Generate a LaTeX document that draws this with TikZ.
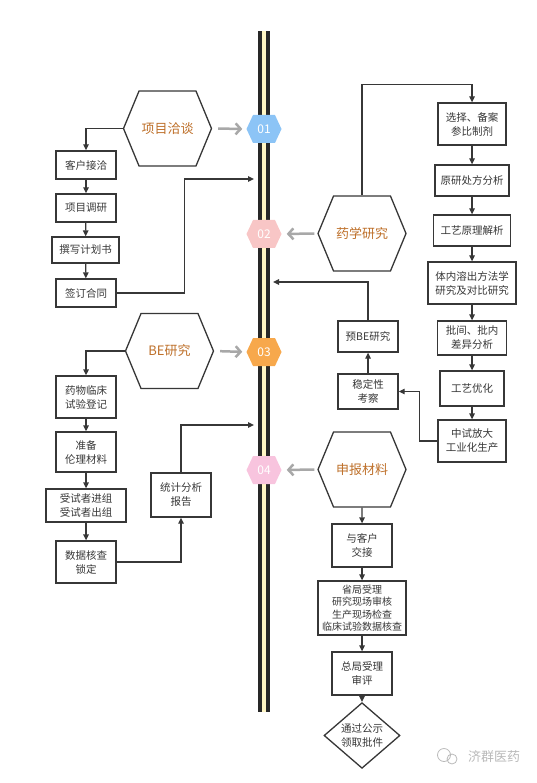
\documentclass[tikz,border=0pt]{standalone}
\usepackage{fontspec}
\setmainfont{Noto Sans CJK SC}
\usepackage{xcolor}
\usepackage{tikz}
\usetikzlibrary{arrows.meta,positioning,calc,shapes.geometric,shapes.symbols}
\definecolor{railblk}{RGB}{40,40,40}
\definecolor{railylw}{RGB}{255,246,196}
\definecolor{bdgblue}{RGB}{140,196,246}
\definecolor{bdgrose}{RGB}{248,198,198}
\definecolor{bdgorng}{RGB}{247,168,76}
\definecolor{bdgpink}{RGB}{248,196,222}
\definecolor{hxbrown}{RGB}{190,112,42}
\definecolor{lngray}{RGB}{168,168,168}
\definecolor{inkgray}{RGB}{55,55,55}
\definecolor{wmgray}{RGB}{185,185,185}

\begin{document}
\begin{tikzpicture}[
  x=1pt, y=-1pt,
  font=\fontsize{10.5}{14}\selectfont,
  >={Triangle[length=6pt,width=5.5pt]},
  every node/.style={align=center, text=inkgray},
  base/.style   = {draw=inkgray, line width=1.3pt, fill=white, inner sep=2pt},
  nrw/.style    = {base, minimum width=60pt, minimum height=28pt},
  two/.style    = {base, minimum width=60pt, minimum height=42pt},
  hexnd/.style  = {signal, signal to=west and east, signal pointer angle=135,
                   draw=inkgray, line width=1.3pt, fill=white, text=hxbrown,
                   font=\fontsize{13}{15}\selectfont, inner sep=0pt,
                   minimum width=88pt, minimum height=75pt},
  badge/.style  = {signal, signal to=west and east, signal pointer angle=130,
                   draw=none, text=white, font=\fontsize{12}{14}\selectfont,
                   inner sep=0pt, minimum width=35pt, minimum height=28pt},
  dmnd/.style   = {diamond, draw=inkgray, line width=1.3pt, fill=white,
                   inner sep=0pt, minimum width=76pt, minimum height=53pt},
  flow/.style   = {->, draw=inkgray, line width=1.3pt},
  toline/.style = {-{Straight Barb[length=5pt,width=11pt]}, draw=lngray, line width=2.5pt}
]
\useasboundingbox (0,0) rectangle (537,783);

%% ===== Timeline =====
\fill[railblk] (258,31) rectangle (270,712);
\fill[railylw] (262,31) rectangle (266,712);
\coordinate (r1) at (254,179);
\coordinate (r2) at (273,282);
\coordinate (r3) at (254,425);

\node[badge, fill=bdgblue] (s1) at (264,129) {01};
\node[badge, fill=bdgrose] (s2) at (264,234) {02};
\node[badge, fill=bdgorng] (s3) at (264,352) {03};
\node[badge, fill=bdgpink] (s4) at (264,470) {04};

%% ===== 01 =====
\node[hexnd] (talk) at (167.5,128.5) {项目洽谈};
\node[nrw] (c1) at (86,165) {客户接洽};
\node[nrw] (c2) at (86,208) {项目调研};
\node[base, minimum width=67pt, minimum height=26pt] (c3) at (85.5,250) {撰写计划书};
\node[nrw] (c4) at (86,293) {签订合同};

\draw[toline, shorten <=6pt, shorten >=4pt] (talk.east) -- (s1.west);
\draw[flow] (talk.west) -| (c1.north);
\draw[flow] (c1) -- (c2);
\draw[flow] (c2) -- (c3);
\draw[flow] (c3) -- (c4);
\draw[flow] (c4.east) -- ++(68,0) |- (r1);

%% ===== 02 =====
\node[hexnd] (pharm) at (362,233.5) {药学研究};
\node[base, minimum width=68pt, minimum height=42pt] (p1) at (472,124) {选择、备案\\参比制剂};
\node[base, minimum width=74pt, minimum height=31pt] (p2) at (472,180.5) {原研处方分析};
\node[base, minimum width=77pt, minimum height=31pt] (p3) at (472,230.5) {工艺原理解析};
\node[base, minimum width=88pt, minimum height=42pt] (p4) at (472,283) {体内溶出方法学\\研究及对比研究};
\node[base, minimum width=69pt, minimum height=34pt] (p5) at (472,338) {批间、批内\\差异分析};
\node[base, minimum width=64pt, minimum height=35pt] (p6) at (472,388.5) {工艺优化};
\node[base, minimum width=68pt, minimum height=42pt] (p7) at (472,441) {中试放大\\工业化生产};
\node[base, minimum width=60pt, minimum height=31pt] (pbe) at (368,336.5) {预BE研究};
\node[base, minimum width=60pt, minimum height=35pt] (stab) at (368,391.5) {稳定性\\考察};

\draw[toline, shorten <=3pt, shorten >=5pt] (pharm.west) -- (s2.east);
\draw[flow] (pharm.north) -- ++(0,-111) -| (p1.north);
\draw[flow] (p1) -- (p2);
\draw[flow] (p2) -- (p3);
\draw[flow] (p3) -- (p4);
\draw[flow] (p4) -- (p5);
\draw[flow] (p5) -- (p6);
\draw[flow] (p6) -- (p7);
\draw[flow] (p7.west) -- ++(-18,0) |- (stab.east);
\draw[flow] (stab) -- (pbe);
\draw[flow] (pbe.north) |- (r2);

%% ===== 03 =====
\node[hexnd] (bestudy) at (169.5,351) {BE研究};
\node[two] (b1) at (86,397) {药物临床\\试验登记};
\node[two, minimum height=40pt] (b2) at (86,452) {准备\\伦理材料};
\node[base, minimum width=80pt, minimum height=33pt] (b3) at (86,505.5) {受试者进组\\受试者出组};
\node[two] (b4) at (86,562) {数据核查\\锁定};
\node[two, minimum height=44pt] (stat) at (181,495) {统计分析\\报告};

\draw[toline, shorten <=6pt, shorten >=4pt] (bestudy.east) -- (s3.west);
\draw[flow] (bestudy.west) -| (b1.north);
\draw[flow] (b1) -- (b2);
\draw[flow] (b2) -- (b3);
\draw[flow] (b3) -- (b4);
\draw[flow] (b4.east) -| (stat.south);
\draw[flow] (stat.north) |- (r3);

%% ===== 04 =====
\node[hexnd] (decl) at (362,469.5) {申报材料};
\node[two, minimum height=43pt] (d1) at (362,545.5) {与客户\\交接};
\node[base, minimum width=88pt, minimum height=54pt, font=\fontsize{10}{12.5}\selectfont]
  (d2) at (362,608) {省局受理\\研究现场审核\\生产现场检查\\临床试验数据核查};
\node[two, minimum height=43pt] (d3) at (362,673.5) {总局受理\\审评};
\node[dmnd] (d4) at (362,735.5) {通过公示\\领取批件};

\draw[toline, shorten <=3pt, shorten >=5pt] (decl.west) -- (s4.east);
\draw[flow] (decl) -- (d1);
\draw[flow] (d1) -- (d2);
\draw[flow] (d2) -- (d3);
\draw[flow] (d3) -- (d4);

%% watermark
\draw[wmgray, line width=0.8pt] (444,755) circle (6.5pt) (452,759) circle (5pt);
\node[text=wmgray, font=\fontsize{13}{15}\selectfont] (wm) at (494,757) {济群医药};

\end{tikzpicture}
\end{document}
